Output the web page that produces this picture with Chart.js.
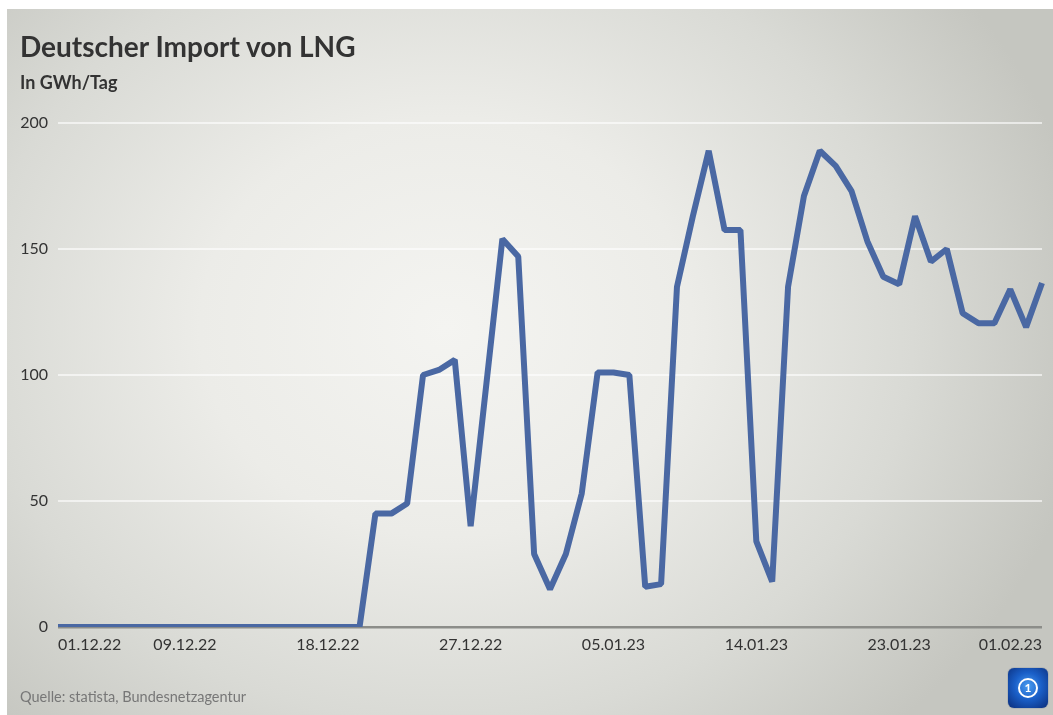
<!DOCTYPE html>
<html>
<head>
<meta charset="utf-8">
<script src="https://cdn.jsdelivr.net/npm/chart.js@4.4.0/dist/chart.umd.min.js"></script>
<style>
html,body{margin:0;padding:0;background:#fff;}
#wrap{position:relative;width:1053px;height:715px;overflow:hidden;background:#fff;}
#panel{position:absolute;left:7px;top:9px;right:0;bottom:0;
  background:radial-gradient(ellipse 62% 78% at 42% 45%, #f4f4f1 0%, #ececE8 38%, #d9dad5 72%, #c5c6c0 100%);}
#chart{position:absolute;left:0;top:0;}
#title{position:absolute;left:20px;top:29px;font-family:Lato,sans-serif;font-weight:bold;font-size:28px;color:#333;white-space:nowrap;}
#subtitle{position:absolute;left:20px;top:71px;font-family:Lato,sans-serif;font-weight:bold;font-size:18px;color:#333;white-space:nowrap;}
#source{position:absolute;left:20px;top:688px;font-family:Lato,sans-serif;font-size:14.5px;color:#777;white-space:nowrap;}
#logo{position:absolute;left:1008px;top:668px;width:40px;height:40px;border-radius:6px;
  background:radial-gradient(circle at 50% 45%, #4a9cf0 0%, #1a5fc8 45%, #0b2d7a 100%);box-shadow:0 0 1px #0a2a6a;}
#logo .ring{position:absolute;left:10px;top:10px;width:16px;height:16px;border:2px solid #fff;border-radius:50%;
  font-family:Lato,sans-serif;font-weight:bold;font-size:12px;color:#fff;text-align:center;line-height:16px;}
</style>
</head>
<body>
<div id="wrap">
  <div id="panel"></div>
  <canvas id="chart" width="1053" height="715"></canvas>
  <div id="title">Deutscher Import von LNG</div>
  <div id="subtitle">In GWh/Tag</div>
  <div id="source">Quelle: statista, Bundesnetzagentur</div>
  <div id="logo"><div class="ring">1</div></div>
</div>
<script>
const categories = [
  '01.12.22','02.12.22','03.12.22','04.12.22','05.12.22','06.12.22','07.12.22','08.12.22','09.12.22','10.12.22',
  '11.12.22','12.12.22','13.12.22','14.12.22','15.12.22','16.12.22','17.12.22','18.12.22','19.12.22','20.12.22',
  '21.12.22','22.12.22','23.12.22','24.12.22','25.12.22','26.12.22','27.12.22','28.12.22','29.12.22','30.12.22',
  '31.12.22','01.01.23','02.01.23','03.01.23','04.01.23','05.01.23','06.01.23','07.01.23','08.01.23','09.01.23',
  '10.01.23','11.01.23','12.01.23','13.01.23','14.01.23','15.01.23','16.01.23','17.01.23','18.01.23','19.01.23',
  '20.01.23','21.01.23','22.01.23','23.01.23','24.01.23','25.01.23','26.01.23','27.01.23','28.01.23','29.01.23',
  '30.01.23','31.01.23','01.02.23'
];
const importGWh = [
  0,0,0,0,0,0,0,0,0,0,
  0,0,0,0,0,0,0,0,0,0,
  45,45,49,100,102,106,40,97,154,147,
  29,15,29,53,101,101,100,16,17,135,
  163,189,157.5,157.5,34,18,135,171,189,183,
  173,153,139,136,163,145,150,124.5,120.5,120.5,
  134,119,136.5
];
const xTickLabels = ['01.12.22','09.12.22','18.12.22','27.12.22','05.01.23','14.01.23','23.01.23','01.02.23'];
const yTickValues = [0,50,100,150,200];

const ctx = document.getElementById('chart').getContext('2d');
new Chart(ctx, {
  type: 'line',
  data: {
    labels: categories,
    datasets: [{
      data: importGWh,
      borderColor: '#4a68a3',
      borderWidth: 6,
      pointRadius: 0,
      tension: 0,
      borderJoinStyle: 'bevel',
      fill: false
    }]
  },
  options: {
    responsive: false,
    animation: false,
    layout: { padding: { left: 0, right: 11, top: 123, bottom: 58 } },
    plugins: { legend: { display: false }, tooltip: { enabled: false } },
    scales: {
      x: {
        type: 'category',
        offset: false,
        grid: { display: false, drawTicks: false },
        border: { display: false },
        ticks: {
          autoSkip: false, maxRotation: 0, minRotation: 0, align: 'inner', padding: 8,
          color: '#333', font: { family: 'Lato', size: 16 },
          callback: function (v) { const l = this.getLabelForValue(v); return xTickLabels.includes(l) ? l : ''; }
        },
        afterFit: s => { s.height = 30; }
      },
      y: {
        min: 0, max: 200,
        afterBuildTicks: s => { s.ticks = yTickValues.map(v => ({ value: v })); },
        grid: {
          drawTicks: false,
          color: c => (c.tick && c.tick.value === 0) ? '#8c8d89' : 'rgba(255,255,255,0.6)',
          lineWidth: c => (c.tick && c.tick.value === 0) ? 2.5 : 2
        },
        border: { display: false },
        ticks: { padding: 10, color: '#333', font: { family: 'Lato', size: 16 } },
        afterFit: s => { s.width = 58; }
      }
    }
  }
});
</script>
</body>
</html>
